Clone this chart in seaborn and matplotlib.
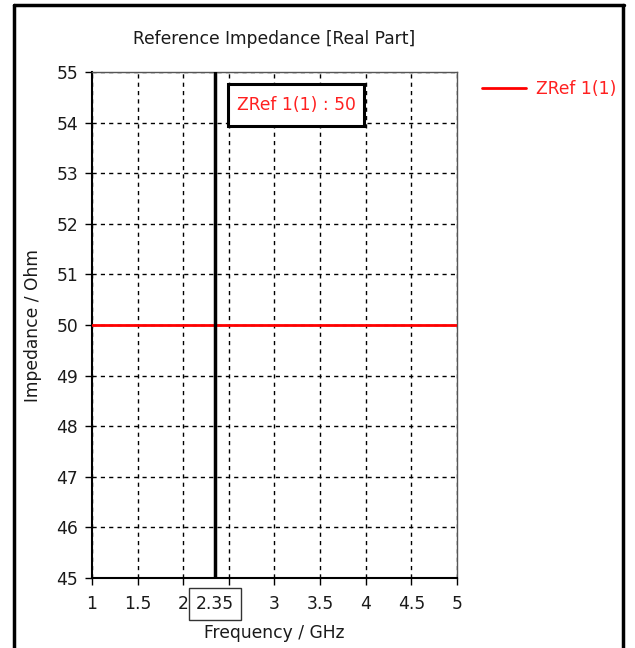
import numpy as np
import pandas as pd
import matplotlib
matplotlib.use("Agg")
import matplotlib.pyplot as plt
import seaborn as sns
from matplotlib.lines import Line2D
from matplotlib.patches import Rectangle

# ---- data ----
freq_ghz = [1.0, 5.0]
zref_real = [50.0, 50.0]
series_name = "ZRef 1(1)"
marker_freq = 2.35
marker_value = 50
x_ticks = [1, 1.5, 2, 2.5, 3, 3.5, 4, 4.5, 5]
x_ticklabels = ["1", "1.5", "2", "", "3", "3.5", "4", "4.5", "5"]
y_ticks = [45, 46, 47, 48, 49, 50, 51, 52, 53, 54, 55]
title = "Reference Impedance [Real Part]"
xlabel = "Frequency / GHz"
ylabel = "Impedance / Ohm"

sns.set_style("ticks")
plt.rcParams["font.family"] = ["DejaVu Sans"]
FS = 12.3
TXT = "#1a1a1a"

fig = plt.figure(figsize=(6.35, 6.48), dpi=100)
W, H = 635, 648
ax = fig.add_axes([92 / W, 1 - 578 / H, (457 - 92) / W, (578 - 72) / H])

df = pd.DataFrame({"freq": freq_ghz, "z": zref_real})
sns.lineplot(data=df, x="freq", y="z", ax=ax, color="#ff0000", lw=2,
             label=series_name, zorder=4)

ax.set_xlim(freq_ghz[0], freq_ghz[-1])
ax.set_ylim(y_ticks[0], y_ticks[-1])
ax.set_xticks(x_ticks)
ax.set_xticklabels(x_ticklabels)
ax.set_yticks(y_ticks)
ax.tick_params(axis="both", direction="out", length=5, width=1, color="black",
               labelsize=FS, labelcolor=TXT)
ax.tick_params(axis="y", pad=5)
ax.tick_params(axis="x", pad=7.5)

ax.grid(True, color="black", linestyle=(0, (3, 3)), linewidth=1)
for s in ["left", "bottom"]:
    ax.spines[s].set_color("black")
    ax.spines[s].set_linewidth(1.5)
for s in ["top", "right"]:
    ax.spines[s].set_color("#555555")
    ax.spines[s].set_linewidth(1)

ax.set_title(title, fontsize=FS, color=TXT, pad=20)
ax.set_xlabel(xlabel, fontsize=FS, color=TXT, labelpad=8)
ax.set_ylabel(ylabel, fontsize=FS, color=TXT, labelpad=10)

# marker line
ax.axvline(marker_freq, color="black", lw=2.5, zorder=5)

# marker value box
ax.add_patch(Rectangle((2.49, 53.93), 3.98 - 2.49, 54.76 - 53.93, facecolor="white",
                       edgecolor="black", lw=2.2, zorder=6))
ax.text((2.49 + 3.98) / 2, 54.35, f"{series_name} : {marker_value}", color="#ff2020",
        fontsize=FS, ha="center", va="center", zorder=7)

# x marker label
ax.annotate(f"{marker_freq}", xy=(marker_freq, 0), xycoords=("data", "axes fraction"),
            xytext=(0, -18.5), textcoords="offset points", ha="center", va="center",
            fontsize=FS, color=TXT, zorder=8, annotation_clip=False,
            bbox=dict(boxstyle="square,pad=0.4", facecolor="white", edgecolor="#333333", lw=1))

# legend
leg = ax.legend(loc="center left", bbox_to_anchor=(475 / W, 1 - 89 / H),
                bbox_transform=fig.transFigure, frameon=False, fontsize=FS,
                handlelength=2.6, handletextpad=0.55, borderaxespad=0)
for t in leg.get_texts():
    t.set_color("#ff2020")

# outer frame
fig.add_artist(Line2D([14 / W, 624 / W], [1 - 5 / H, 1 - 5 / H], color="black", lw=2.5,
                      transform=fig.transFigure))
fig.add_artist(Line2D([14 / W, 14 / W], [0, 1 - 5 / H], color="black", lw=2.5,
                      transform=fig.transFigure))
fig.add_artist(Line2D([623 / W, 623 / W], [0, 1 - 5 / H], color="black", lw=2.5,
                      transform=fig.transFigure))

fig.savefig("out.png", dpi=100)
